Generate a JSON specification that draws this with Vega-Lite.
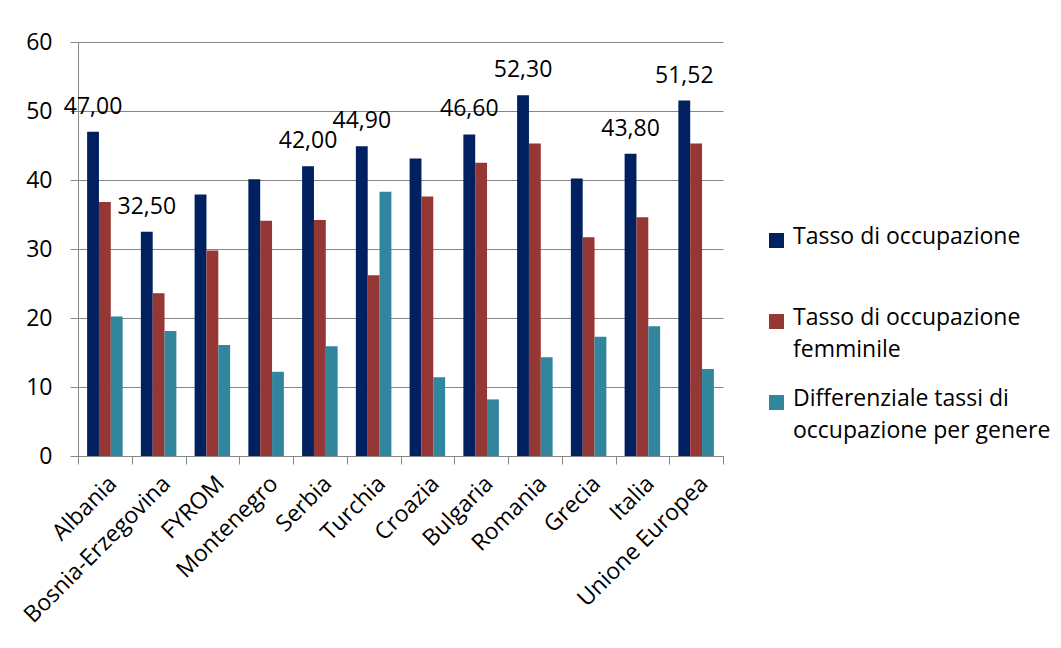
{
  "$schema": "https://vega.github.io/schema/vega-lite/v6.json",
  "width": 645,
  "height": 414,
  "autosize": "none",
  "padding": {"left": 78, "top": 42, "right": 338, "bottom": 192},
  "config": {
    "font": "Open Sans",
    "view": {"stroke": null},
    "locale": {"number": {"decimal": ",", "thousands": ".", "grouping": [3], "currency": ["", " €"]}},
    "axis": {"labelColor": "#000000", "labelFontSize": 23, "labelFont": "Open Sans", "domainColor": "#868686", "tickColor": "#868686", "gridColor": "#868686", "tickSize": 8, "title": null}
  },
  "data": {"values": [
    {"paese": "Albania", "serie": "Tasso di occupazione", "valore": 47.0},
    {"paese": "Albania", "serie": "Tasso di occupazione femminile", "valore": 36.8},
    {"paese": "Albania", "serie": "Differenziale tassi di occupazione per genere", "valore": 20.2},
    {"paese": "Bosnia-Erzegovina", "serie": "Tasso di occupazione", "valore": 32.5},
    {"paese": "Bosnia-Erzegovina", "serie": "Tasso di occupazione femminile", "valore": 23.6},
    {"paese": "Bosnia-Erzegovina", "serie": "Differenziale tassi di occupazione per genere", "valore": 18.1},
    {"paese": "FYROM", "serie": "Tasso di occupazione", "valore": 37.9},
    {"paese": "FYROM", "serie": "Tasso di occupazione femminile", "valore": 29.8},
    {"paese": "FYROM", "serie": "Differenziale tassi di occupazione per genere", "valore": 16.1},
    {"paese": "Montenegro", "serie": "Tasso di occupazione", "valore": 40.1},
    {"paese": "Montenegro", "serie": "Tasso di occupazione femminile", "valore": 34.1},
    {"paese": "Montenegro", "serie": "Differenziale tassi di occupazione per genere", "valore": 12.2},
    {"paese": "Serbia", "serie": "Tasso di occupazione", "valore": 42.0},
    {"paese": "Serbia", "serie": "Tasso di occupazione femminile", "valore": 34.2},
    {"paese": "Serbia", "serie": "Differenziale tassi di occupazione per genere", "valore": 15.9},
    {"paese": "Turchia", "serie": "Tasso di occupazione", "valore": 44.9},
    {"paese": "Turchia", "serie": "Tasso di occupazione femminile", "valore": 26.2},
    {"paese": "Turchia", "serie": "Differenziale tassi di occupazione per genere", "valore": 38.3},
    {"paese": "Croazia", "serie": "Tasso di occupazione", "valore": 43.1},
    {"paese": "Croazia", "serie": "Tasso di occupazione femminile", "valore": 37.6},
    {"paese": "Croazia", "serie": "Differenziale tassi di occupazione per genere", "valore": 11.4},
    {"paese": "Bulgaria", "serie": "Tasso di occupazione", "valore": 46.6},
    {"paese": "Bulgaria", "serie": "Tasso di occupazione femminile", "valore": 42.5},
    {"paese": "Bulgaria", "serie": "Differenziale tassi di occupazione per genere", "valore": 8.2},
    {"paese": "Romania", "serie": "Tasso di occupazione", "valore": 52.3},
    {"paese": "Romania", "serie": "Tasso di occupazione femminile", "valore": 45.3},
    {"paese": "Romania", "serie": "Differenziale tassi di occupazione per genere", "valore": 14.3},
    {"paese": "Grecia", "serie": "Tasso di occupazione", "valore": 40.2},
    {"paese": "Grecia", "serie": "Tasso di occupazione femminile", "valore": 31.7},
    {"paese": "Grecia", "serie": "Differenziale tassi di occupazione per genere", "valore": 17.3},
    {"paese": "Italia", "serie": "Tasso di occupazione", "valore": 43.8},
    {"paese": "Italia", "serie": "Tasso di occupazione femminile", "valore": 34.6},
    {"paese": "Italia", "serie": "Differenziale tassi di occupazione per genere", "valore": 18.8},
    {"paese": "Unione Europea", "serie": "Tasso di occupazione", "valore": 51.52},
    {"paese": "Unione Europea", "serie": "Tasso di occupazione femminile", "valore": 45.3},
    {"paese": "Unione Europea", "serie": "Differenziale tassi di occupazione per genere", "valore": 12.6}
  ]},
  "encoding": {
    "x": {"field": "paese", "type": "nominal", "sort": null,
      "scale": {"paddingInner": 0, "paddingOuter": 0},
      "axis": {"labelAngle": -45, "labelPadding": 8, "labelLimit": 400, "tickBand": "extent", "domain": true, "ticks": true, "grid": false}},
    "xOffset": {"field": "serie", "type": "nominal",
      "sort": ["Tasso di occupazione", "Tasso di occupazione femminile", "Differenziale tassi di occupazione per genere"],
      "scale": {"paddingInner": 0, "paddingOuter": 0.77}},
    "y": {"field": "valore", "type": "quantitative",
      "scale": {"domain": [0, 60], "nice": false},
      "axis": {"values": [0, 10, 20, 30, 40, 50, 60], "grid": true, "labelPadding": 18, "domain": true, "ticks": true}}
  },
  "layer": [
    {
      "mark": {"type": "bar"},
      "encoding": {
        "color": {"field": "serie", "type": "nominal",
          "scale": {"domain": ["Tasso di occupazione", "Tasso di occupazione femminile", "Differenziale tassi di occupazione per genere"],
                    "range": ["#002060", "#953735", "#31859C"]},
          "legend": {"orient": "none", "legendX": 687, "legendY": 187, "title": null,
            "symbolType": "square", "symbolSize": 225, "symbolStrokeWidth": 0,
            "labelFontSize": 23, "labelFont": "Open Sans", "labelColor": "#000000", "labelOffset": 5, "labelLimit": 400,
            "rowPadding": 25,
            "labelExpr": "datum.label == 'Tasso di occupazione femminile' ? ['Tasso di occupazione', 'femminile'] : datum.label == 'Differenziale tassi di occupazione per genere' ? ['Differenziale tassi di', 'occupazione per genere'] : [datum.label, '\u00a0']",
            "encode": {"labels": {"update": {"lineHeight": {"value": 32}, "baseline": {"value": "top"}, "dy": {"value": -15}}}}}
        }
      }
    },
    {
      "transform": [
        {"filter": "datum.serie == 'Tasso di occupazione' && indexof(['Albania', 'Bosnia-Erzegovina', 'Serbia', 'Turchia', 'Bulgaria', 'Romania', 'Italia', 'Unione Europea'], datum.paese) >= 0"}
      ],
      "mark": {"type": "text", "baseline": "alphabetic", "dy": -18, "fontSize": 23, "font": "Open Sans", "color": "#000000"},
      "encoding": {
        "text": {"field": "valore", "type": "quantitative", "format": ".2f"}
      }
    }
  ]
}
